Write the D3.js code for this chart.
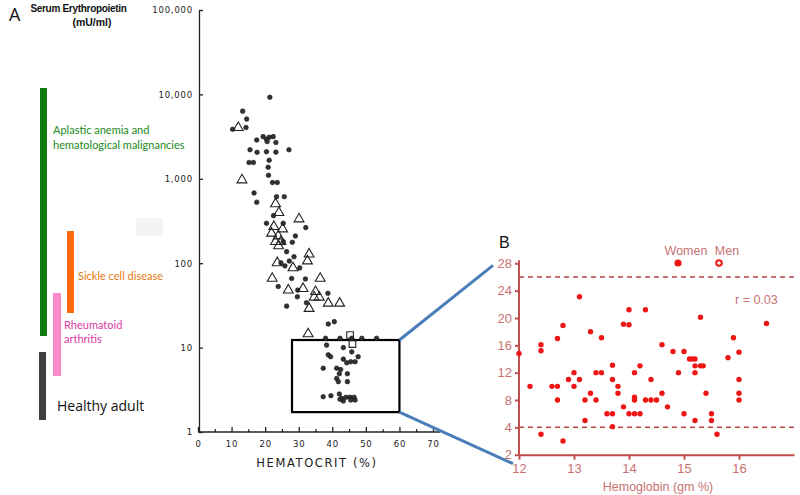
<!DOCTYPE html>
<html><head><meta charset="utf-8">
<script src="https://cdn.jsdelivr.net/npm/d3@7"></script>
<style>
html,body{margin:0;padding:0;background:#fff;}
svg{display:block;}
</style></head>
<body>
<svg id="c" width="800" height="495"></svg>
<script>
// ---------- Panel A data (hematocrit %, serum EPO mU/ml) ----------
const aDotsHct = [21.4,13.3,14.5,14.3,10.3,17.5,19.4,20.4,21.2,22.4,23.2,20.6,15.5,17.6,20.4,23.2,27.1,15.2,16.5,21.2,20.9,21.0,22.2,23.6,16.7,17.5,23.4,25.7,22.5,25.4,20.4,32.1,25.4,28.1,29.0,26.4,28.6,27.2,30.3,25.9,24.7,27.9,32.0,23.9,29.7,29.6,26.4,38.7,32.3,38.8,40.6,
  38.0,42.3,45.8,48.8,53.2,38.3,38.8,39.5,43.3,45.8,43.3,44.3,45.5,46.8,47.7,37.3,41.3,42.5,44.5,42.1,41.3,41.8,44.5,
  37.3,39.6,42.1,42.8,43.3,44.1,45.3,45.5,46.5,46.8,42.3];
const aDotsEpo = [9250,6330,5100,4060,3860,2880,3160,2940,3100,3160,2690,2760,2210,2060,2090,2070,2210,1560,1560,1660,1370,1100,904,904,680,528,614,614,366,297,297,264,180,177,210,137,119,106,88,93,101,66,65,53,48,40,31,44,34,19,20.3,
  12.9,12.9,12.9,12.9,12.9,10.7,8.2,7.8,10.0,8.9,7.3,6.6,6.8,6.8,7.8,5.7,5.7,5.5,4.9,4.9,4.3,3.95,3.95,
  2.62,2.69,2.82,2.51,2.33,2.58,2.58,2.39,2.58,2.39,2.44];
const aTriHct = [12.0,13.1,23.1,24.1,30.1,22.6,25.2,21.9,23.9,23.1,24.7,24.0,33.1,32.6,23.6,28.3,22.1,36.4,26.9,31.3,35.0,36.1,34.6,38.8,42.2,33.1,32.8];
const aTriEpo = [4030,968,505,397,334,271,254,226,210,180,180,160,128,106,101,88,66,66,48,50,46,39.5,39.5,33.5,33.5,29,14.5];
const aSqHct = [45.3,46.0];
const aSqEpo = [14.1,11.0];
const aYTicks = [1,10,100,1000,10000,100000];
const aYLabels = ["1","10","100","1,000","10,000","100,000"];
const aXTicks = [0,10,20,30,40,50,60,70];
const aBox = {hct:[28,60], epo:[1.72,12.3]};

// ---------- Panel B data (hemoglobin gm %, EPO) ----------
const bHb = [12.0,13.1,12.4,12.4,12.7,12.8,13.3,13.5,13.9,14.0,14.0,14.3,14.6,14.8,15.0,15.3,15.9,16.5,15.8,16.0,15.1,15.15,15.2,15.2,15.3,15.35,14.9,15.2,
  12.2,12.4,12.6,12.7,12.7,12.8,12.9,13.0,13.0,13.1,13.2,13.2,13.3,13.4,13.4,13.5,13.6,13.7,13.7,13.7,13.7,13.8,13.8,13.9,14.0,14.1,14.1,14.1,14.1,14.2,14.2,14.3,14.4,14.4,14.5,14.6,14.7,15.0,15.2,15.4,15.5,15.5,15.6,16.0,16.0,16.0];
const bEpo = [14.8,23.1,16.1,15.2,17.0,18.9,18.0,17.1,19.1,19.0,21.2,21.2,16.1,15.1,15.1,20.1,17.1,19.2,14.2,15.0,14,14,14,13,13,13,12,12,
  10,3,10,10,8,2,11,12,10,11,8,5,9,12,8,12,6,13.1,11,6,4.1,10,9,7,6,12,8.4,8,6,6,13,8,11,8,8,9,7,6,5,9,6,5,3,11,9,8];
const bYTicks = [0,4,8,12,16,20,24,28];
const bYLabels = ["2","4","8","12","16","20","24","28"];
const bXTicks = [12,13,14,15,16];
const bRefLines = [26,4];

const svg = d3.select("#c");

// ---------- Left legend bars ----------
const bars = [
  {x:40,y0:88,y1:336,w:7,c:"#0f7b0f"},
  {x:67,y0:231,y1:313,w:7,c:"#ff6a0a"},
  {x:53,y0:293,y1:376,w:8,c:"#f98cc6"},
  {x:39,y0:352,y1:420,w:7,c:"#404040"}
];
svg.selectAll("rect.bar").data(bars).enter().append("rect")
  .attr("x",d=>d.x).attr("y",d=>d.y0).attr("width",d=>d.w).attr("height",d=>d.y1-d.y0).attr("fill",d=>d.c);
svg.append("rect").attr("x",136).attr("y",218).attr("width",27).attr("height",18).attr("fill","#f4f4f4");

const lbl = (x,y,t,c,fs,fam)=>svg.append("text").attr("x",x).attr("y",y).text(t).attr("fill",c)
  .attr("font-family",fam||"Lato,'Open Sans',sans-serif").attr("font-size",fs);
lbl(53,134,"Aplastic anemia and","#1a8a1a",11);
lbl(53,149,"hematological malignancies","#1a8a1a",11);
lbl(78,280,"Sickle cell disease","#e8780f",11);
lbl(64,329,"Rheumatoid","#d63aa6",11);
lbl(64,343,"arthritis","#d63aa6",11);
lbl(57,411,"Healthy adult","#111",14,"'Open Sans',sans-serif");
lbl(9,21,"A","#111",18,"'Open Sans',sans-serif");
svg.append("text").attr("x",78.5).attr("y",12).attr("text-anchor","middle").text("Serum Erythropoietin")
  .attr("font-family","'Liberation Sans',Arial,sans-serif").attr("font-weight","bold").attr("font-size",10)
  .attr("letter-spacing",-0.3).attr("fill","#111");
svg.append("text").attr("x",92).attr("y",26).attr("text-anchor","middle").text("(mU/ml)")
  .attr("font-family","'Liberation Sans',Arial,sans-serif").attr("font-weight","bold").attr("font-size",10.5).attr("fill","#111");

// ---------- Panel A ----------
const xA = d3.scaleLinear().domain([0,70]).range([198,433]);
const yA = d3.scaleLog().domain([1,100000]).range([432,10]);
const gA = svg.append("g");
const axA = gA.append("g").attr("transform","translate(0,432)")
  .call(d3.axisBottom(xA).tickValues(aXTicks).tickSizeInner(-5).tickSizeOuter(0).tickPadding(9).tickFormat(d3.format("d")));
axA.select(".domain").attr("d","M198,0H440");
gA.append("g").attr("transform","translate(0,432)")
  .call(d3.axisBottom(xA).tickValues(d3.range(5,70,5).filter(v=>v%10)).tickSizeInner(-3).tickSizeOuter(0).tickFormat(""))
  .select(".domain").remove();
const ayA = gA.append("g").attr("transform","translate(199,0)")
  .call(d3.axisLeft(yA).tickValues(aYTicks).tickSizeInner(-4).tickSizeOuter(0).tickPadding(6).tickFormat((d,i)=>aYLabels[i]));
[axA,ayA].forEach(a=>{a.selectAll("path,line").attr("stroke","#222").attr("stroke-width",1.3);
  a.selectAll("text").attr("font-family","'DejaVu Sans',sans-serif").attr("font-size",8.5).attr("letter-spacing",0.8).attr("fill","#222");});
ayA.selectAll(".tick text").attr("dy","0.35em");
gA.append("text").attr("x",317).attr("y",467).attr("text-anchor","middle").text("HEMATOCRIT (%)")
  .attr("font-family","'DejaVu Sans',sans-serif").attr("font-size",11.5).attr("letter-spacing",1.6).attr("fill","#222");

// box
gA.append("rect").attr("x",xA(aBox.hct[0])).attr("y",yA(aBox.epo[1]))
  .attr("width",xA(aBox.hct[1])-xA(aBox.hct[0])).attr("height",yA(aBox.epo[0])-yA(aBox.epo[1]))
  .attr("fill","none").attr("stroke","#000").attr("stroke-width",2.2);

const dotsA = aDotsHct.map((h,i)=>[h,aDotsEpo[i]]);
gA.selectAll("circle.a").data(dotsA).enter().append("circle")
  .attr("cx",d=>xA(d[0])).attr("cy",d=>yA(d[1])).attr("r",2.3)
  .attr("fill","#333").attr("stroke","#111").attr("stroke-width",0.6);
const triA = aTriHct.map((h,i)=>[h,aTriEpo[i]]);
gA.selectAll("path.tri").data(triA).enter().append("path")
  .attr("d",d3.symbol(d3.symbolTriangle,42))
  .attr("transform",d=>`translate(${xA(d[0])},${yA(d[1])})`)
  .attr("fill","none").attr("stroke","#222").attr("stroke-width",1.1);
const sqA = aSqHct.map((h,i)=>[h,aSqEpo[i]]);
gA.selectAll("path.sq").data(sqA).enter().append("path")
  .attr("d",d3.symbol(d3.symbolSquare,44))
  .attr("transform",d=>`translate(${xA(d[0])},${yA(d[1])})`)
  .attr("fill","none").attr("stroke","#222").attr("stroke-width",1.1);

// ---------- Panel B ----------
const xB = d3.scaleLinear().domain([12,17]).range([519,794]);
const yB = d3.scaleLinear().domain([0,28]).range([454.7,263.3]);
const axisCol = "#c0504d", textCol = "#c97272";

// connectors
const x0 = xA(aBox.hct[1]);
svg.append("line").attr("x1",x0).attr("y1",yA(aBox.epo[1])).attr("x2",xB(12)-26).attr("y2",yB(28)+2)
  .attr("stroke","#4a7ebb").attr("stroke-width",3);
svg.append("line").attr("x1",x0).attr("y1",yA(aBox.epo[0])).attr("x2",xB(12)-6).attr("y2",yB(0)+9)
  .attr("stroke","#4a7ebb").attr("stroke-width",3);

const gB = svg.append("g");
gB.selectAll("line.ref").data(bRefLines).enter().append("line")
  .attr("x1",xB(12)).attr("x2",xB(17)).attr("y1",d=>yB(d)).attr("y2",d=>yB(d))
  .attr("stroke","#b54444").attr("stroke-width",1.5).attr("stroke-dasharray","5,4");
const axB = gB.append("g").attr("transform",`translate(0,${yB(0)})`)
  .call(d3.axisBottom(xB).tickValues(bXTicks).tickSizeInner(5).tickSizeOuter(0).tickPadding(4).tickFormat(d3.format("d")));
const ayB = gB.append("g").attr("transform",`translate(${xB(12)},0)`)
  .call(d3.axisLeft(yB).tickValues(bYTicks).tickSizeInner(4).tickSizeOuter(0).tickPadding(3).tickFormat((d,i)=>bYLabels[i]));
[axB,ayB].forEach(a=>{a.selectAll("path,line").attr("stroke",axisCol).attr("stroke-width",2);
  a.selectAll("text").attr("font-family","'Liberation Sans',Arial,sans-serif").attr("font-size",13).attr("fill",textCol);});
ayB.select(".domain").attr("d",`M0,${yB(28)-3}V${yB(0)}`);
gB.append("text").attr("x",658).attr("y",491).attr("text-anchor","middle").text("Hemoglobin (gm %)")
  .attr("font-family","'Liberation Sans',Arial,sans-serif").attr("font-size",12.5).attr("fill",textCol);

const ptsB = bHb.map((h,i)=>[h,bEpo[i]]);
gB.selectAll("circle.b").data(ptsB).enter().append("circle")
  .attr("cx",d=>xB(d[0])).attr("cy",d=>yB(d[1])).attr("r",2.7).attr("fill","#ee1515");

// legend
const tB = (x,y,t,fs,c,anchor)=>gB.append("text").attr("x",x).attr("y",y).text(t).attr("text-anchor",anchor||"start")
  .attr("font-family","'Liberation Sans',Arial,sans-serif").attr("font-size",fs).attr("fill",c);
tB(686,255,"Women",12.5,textCol,"middle");
tB(727,255,"Men",12.5,textCol,"middle");
gB.append("circle").attr("cx",678).attr("cy",263).attr("r",3.6).attr("fill","#ee1515");
gB.append("circle").attr("cx",719).attr("cy",263).attr("r",2.8).attr("fill","#fff").attr("stroke","#ee1515").attr("stroke-width",2);
tB(735,304,"r = 0.03",12.5,textCol);
tB(499,248,"B",16,"#111");
</script>
</body></html>
